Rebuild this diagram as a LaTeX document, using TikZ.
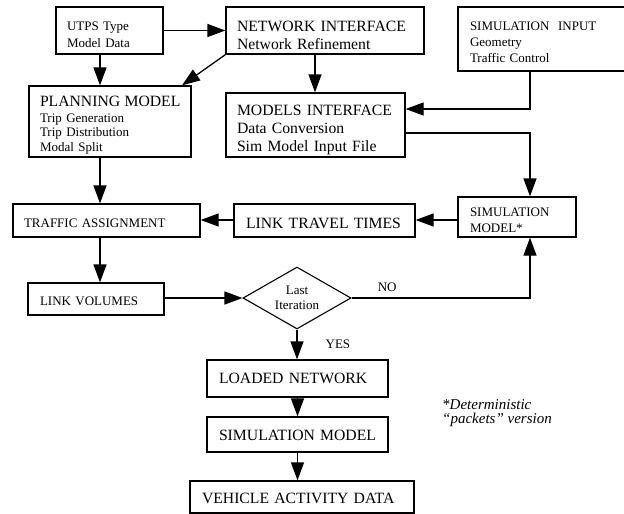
\documentclass[tikz,border=0pt]{standalone}
\usepackage{fontspec}
\setmainfont{Liberation Serif}
\usetikzlibrary{arrows.meta,shapes.geometric}
\newcommand\fsm{\fontsize{13}{16}\selectfont}
\newcommand\fbg{\fontsize{15.7}{18}\selectfont}
\begin{document}
\begin{tikzpicture}[x=1pt,y=-1pt,
  box/.style={draw, line width=1.3pt, inner xsep=11pt, inner ysep=0pt, align=left},
  % a taller first line pushes the text block down inside its frame
  top/.style={execute at begin node={\rule{0pt}{#1}}},
  arr/.style={line width=1.3pt, -{Triangle[length=18pt,width=13pt]}},
  lbl/.style={font=\fsm, inner sep=0pt}]
\useasboundingbox (0,0) rectangle (624,514);

% boxes of the flow
\node[box, top=18pt, text width=85pt, minimum height=47pt, font=\fontsize{13}{17}\selectfont] (utps) at (109.5,30.5) {UTPS~Type\\Model~Data};
\node[box, top=19.7pt, text width=176pt, minimum height=47pt, font=\fbg] (ni) at (325,30.5) {NETWORK~INTERFACE\\Network~Refinement};
\node[box, top=14.6pt, inner xsep=12pt, text width=144pt, minimum height=64pt, font=\fsm] (si) at (542,39) {SIMULATION~~INPUT\\Geometry\\Traffic~Control};
\node[box, top=17.4pt, text width=140pt, minimum height=71pt, font=\fontsize{13}{14.5}\selectfont] (plan) at (110,121.5) {{\fbg PLANNING~MODEL}\\[1.5pt]Trip~Generation\\Trip~Distribution\\Modal~Split};
\node[box, top=20.4pt, text width=157pt, minimum height=64pt, font=\fbg] (mi) at (315.5,125) {MODELS~INTERFACE\\Data~Conversion\\Sim~Model~Input~File};
\node[box, top=14.6pt, text width=165pt, minimum height=33pt, font=\fsm] (ta) at (106.5,220.5) {TRAFFIC~ASSIGNMENT};
\node[box, top=16.4pt, inner xsep=12pt, text width=157pt, minimum height=33pt, font=\fbg] (ltt) at (324.5,220.5) {LINK~TRAVEL~TIMES};
\node[box, top=15.6pt, inner xsep=12pt, text width=94pt, minimum height=40pt, font=\fsm] (sm) at (517,217) {SIMULATION\\MODEL*};
\node[box, top=12.6pt, inner xsep=12pt, text width=112pt, minimum height=32pt, font=\fsm] (lv) at (96,299) {LINK~VOLUMES};
\node[diamond, draw, line width=1.1pt, aspect=1.74, minimum width=108pt, minimum height=62pt, inner sep=0pt, align=center, font=\fontsize{13}{15}\selectfont] (dia) at (297,298) {Last\\Iteration};
\node[box, inner xsep=12pt, text width=157pt, minimum height=37pt, font=\fbg] (ln) at (297.5,378.5) {LOADED~NETWORK};
\node[box, top=12.4pt, inner xsep=12pt, text width=157pt, minimum height=35pt, font=\fbg] (sm2) at (297.5,434.5) {SIMULATION~MODEL};
\node[box, top=12.4pt, inner xsep=12pt, text width=200pt, minimum height=32pt, font=\fbg] (vad) at (302,497) {VEHICLE~ACTIVITY~DATA};
\node[anchor=west, inner sep=0pt, align=left, font=\fontsize{15}{13.5}\selectfont\itshape] (note) at (442,413) {*Deterministic\\“packets”~version};

% helper columns, rows and junctions
\coordinate (cA) at (100,0);
\coordinate (cB) at (315,0);
\coordinate (cC) at (530,0);
\coordinate (cD) at (182,0);
\coordinate (j1) at (530,109);
\coordinate (j2) at (530,133);
\coordinate (r1) at (0,220);

% connectors
\draw[arr] (utps.east) -- (ni.west);
\draw[arr] (utps.south -| cA) -- (plan.north -| cA);
\draw[arr] (ni.south west) -- (plan.north -| cD);
\draw[arr] (ni.south -| cB) -- (mi.north -| cB);
\draw[arr] (si.south -| j1) -- (j1) -- (mi.east |- j1);
\draw[arr] (mi.east |- j2) -- (j2) -- (sm.north -| j2);
\draw[arr] (sm.west |- r1) -- (ltt.east |- r1);
\draw[arr] (ltt.west |- r1) -- (ta.east |- r1);
\draw[arr] (plan.south -| cA) -- (ta.north -| cA);
\draw[arr] (ta.south -| cA) -- (lv.north -| cA);
\draw[arr] (lv.east |- dia.west) -- (dia.west);
\draw[arr] (dia.east) -- (dia.east -| cC) node[lbl, pos=0.2, above=5.5pt] (no) {NO} -- (sm.south -| cC);
\draw[arr] (dia.south) -- (ln.north -| dia.south) node[lbl, midway, right=28pt] (yes) {YES};
\draw[arr] (ln.south) -- (sm2.north);
\draw[arr] (sm2.south) -- (vad.north -| sm2.south);
\end{tikzpicture}
\end{document}
